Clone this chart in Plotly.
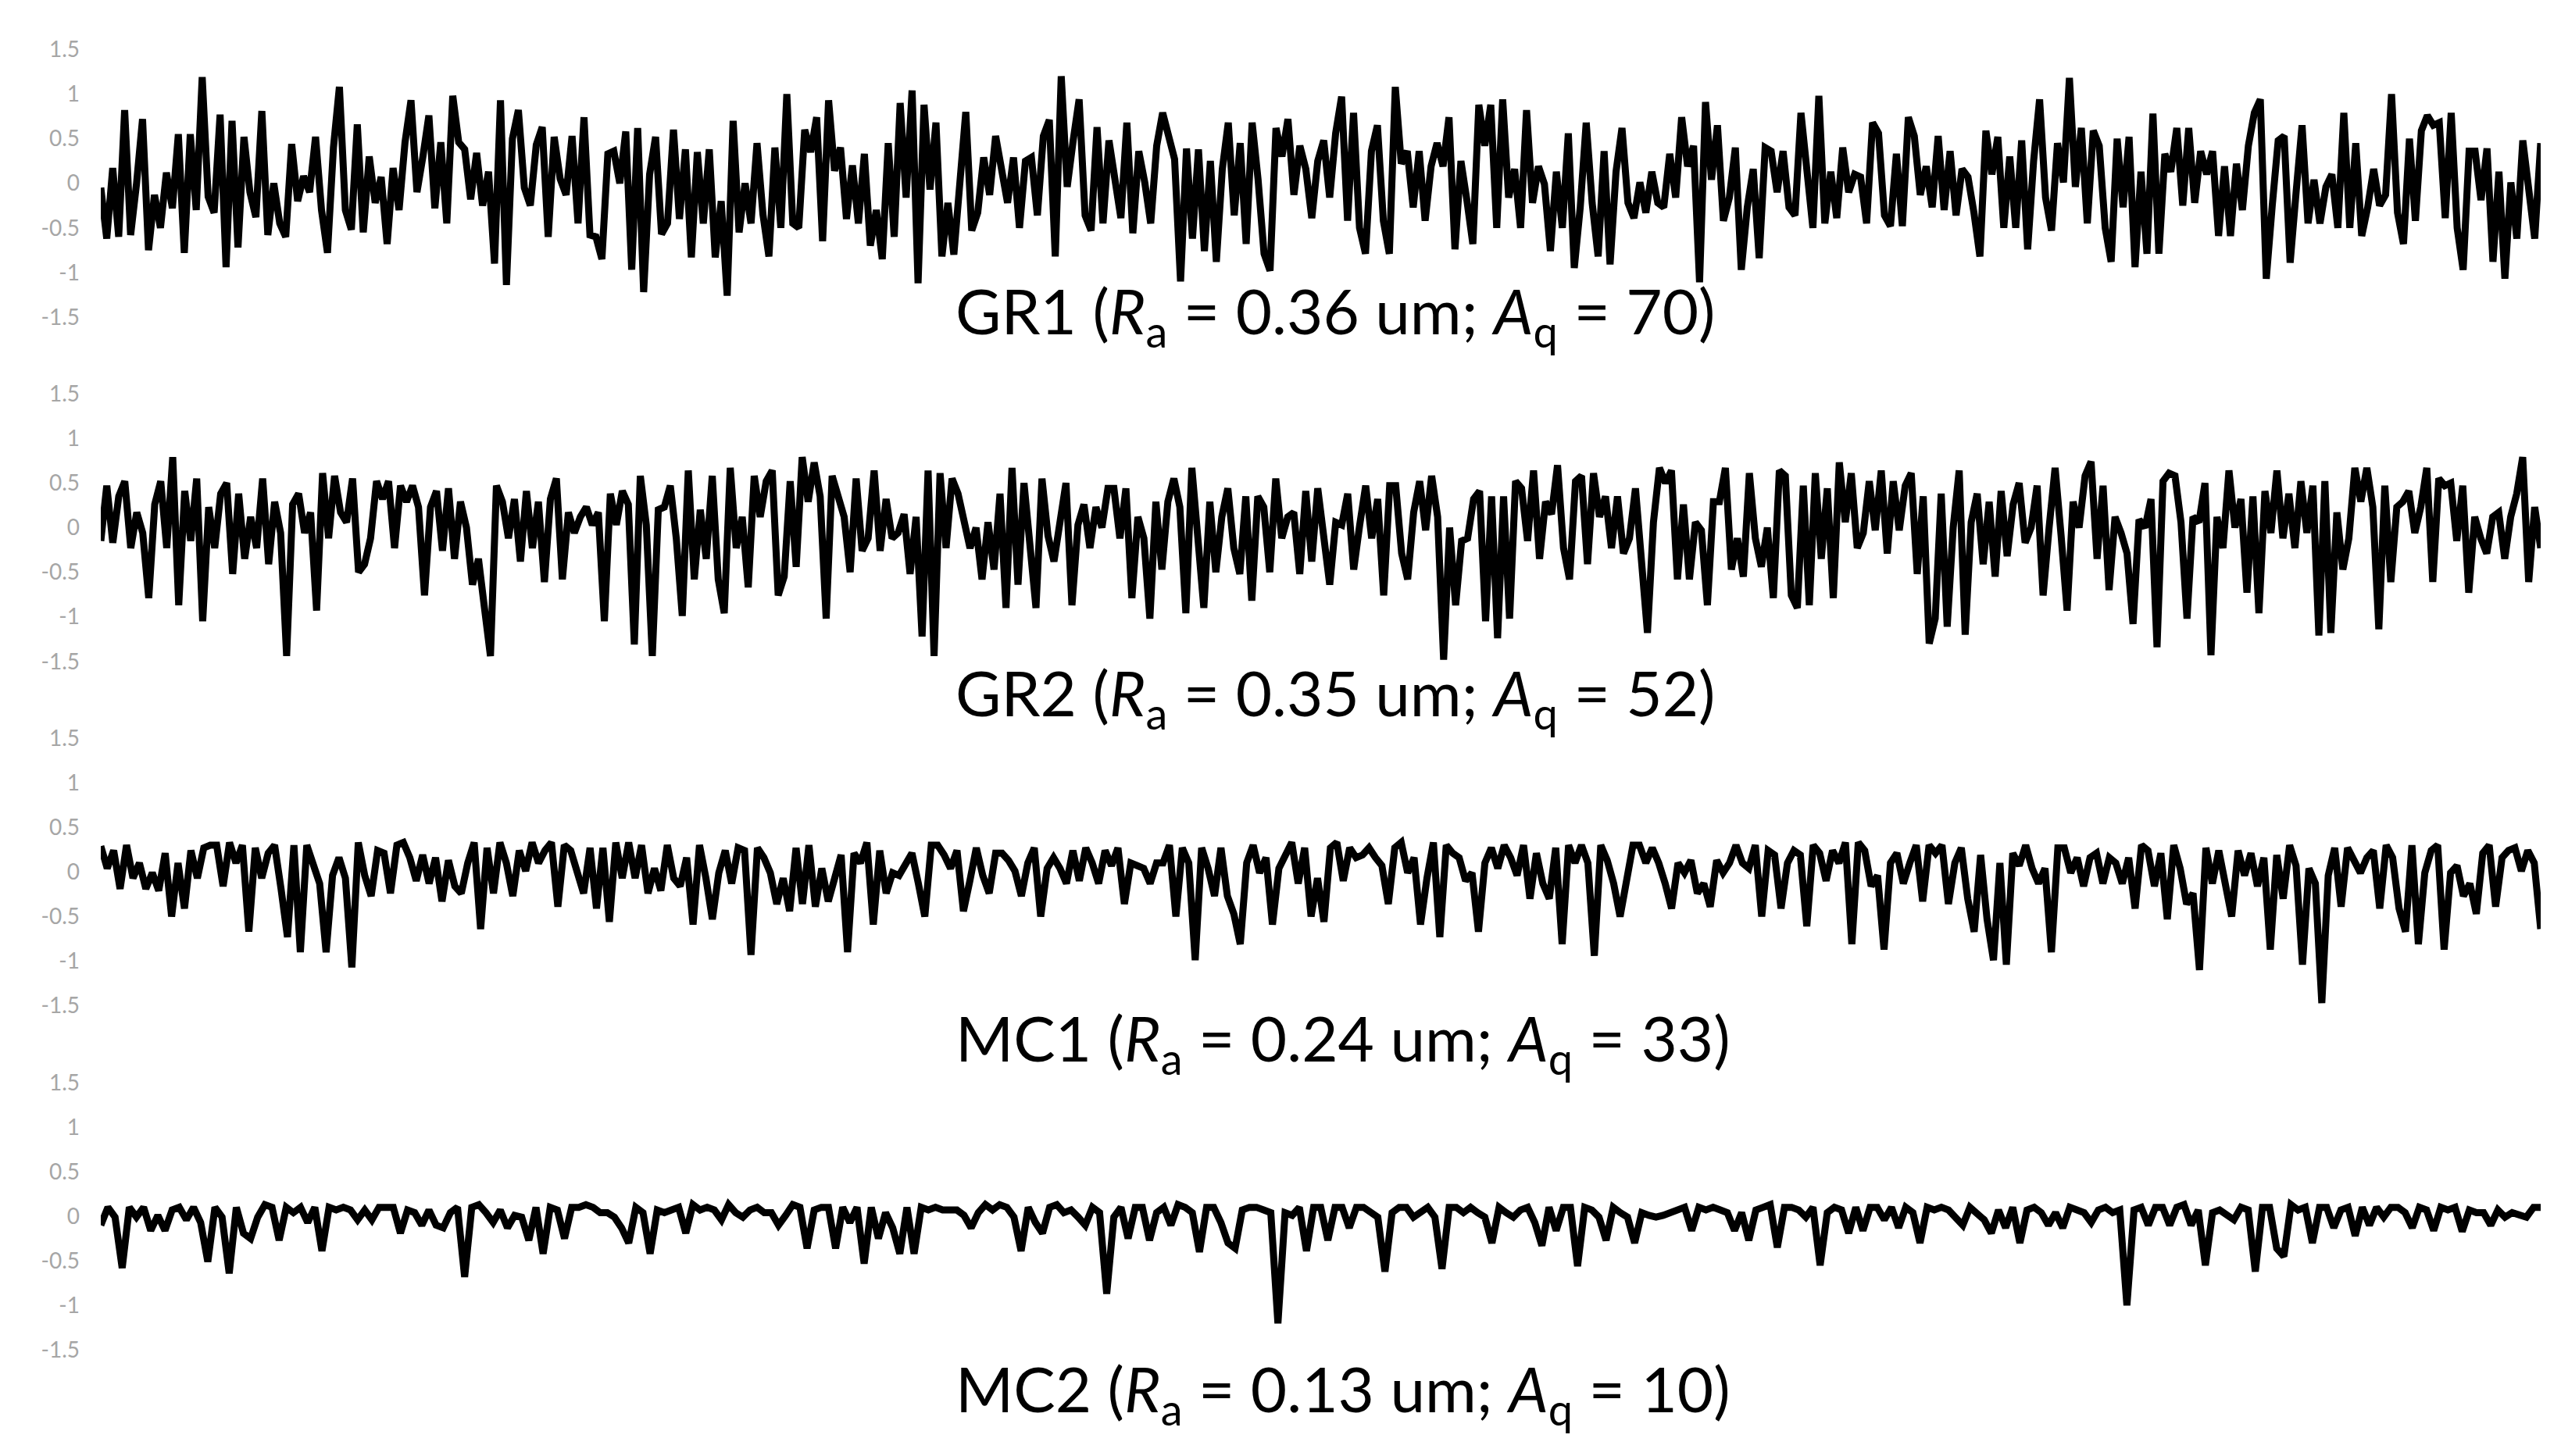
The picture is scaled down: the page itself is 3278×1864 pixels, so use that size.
"""表面粗糙度轮廓对比图 —— GR1 / GR2 / MC1 / MC2 四条轮廓上下排列"""

import plotly.graph_objects as go
from plotly.subplots import make_subplots

# 轮廓高度 (um)，按等间距采样点排列
GR1 = [
    -0.05, -0.62, 0.17, -0.6, 0.82, -0.58, 0.0, 0.72, -0.75, -0.13, -0.5, 0.12, -0.28, 0.55, -0.78, 0.55,
    -0.3, 1.19, -0.15, -0.33, 0.77, -0.94, 0.7, -0.72, 0.52, -0.1, -0.38, 0.81, -0.58, 0.0, -0.45, -0.6,
    0.44, -0.2, 0.08, -0.1, 0.52, -0.3, -0.78, 0.4, 1.08, -0.3, -0.52, 0.66, -0.55, 0.3, -0.22, 0.07,
    -0.68, 0.17, -0.3, 0.46, 0.93, -0.1, 0.3, 0.76, -0.28, 0.46, -0.45, 0.98, 0.46, 0.38, -0.18, 0.34,
    -0.25, 0.13, -0.9, 0.93, -1.14, 0.5, 0.82, -0.05, -0.25, 0.43, 0.63, -0.6, 0.52, 0.05, -0.13, 0.53,
    -0.45, 0.74, -0.58, -0.6, -0.85, 0.33, 0.36, 0.0, 0.58, -0.97, 0.62, -1.22, 0.1, 0.52, -0.57, -0.45,
    0.6, -0.4, 0.38, -0.83, 0.35, -0.45, 0.38, -0.83, -0.2, -1.26, 0.7, -0.55, 0.0, -0.45, 0.45, -0.35,
    -0.82, 0.4, -0.5, 1.0, -0.45, -0.5, 0.6, 0.35, 0.74, -0.65, 0.93, 0.14, 0.4, -0.4, 0.2, -0.45,
    0.33, -0.7, -0.3, -0.85,
    0.45, -0.6, 0.9, -0.16, 1.04, -1.12, 0.88, -0.07, 0.68, -0.82, -0.22, -0.8, 0.0, 0.8, -0.53, -0.33,
    0.29, -0.13, 0.53, 0.13, -0.22, 0.29, -0.5, 0.25, 0.29, -0.36, 0.53, 0.71, -0.82, 1.2, -0.04, 0.48,
    0.94, -0.36, -0.53, 0.63, -0.45, 0.48, -0.01, -0.39, 0.68, -0.56, 0.36, 0.01, -0.45, 0.42, 0.79, 0.53,
    0.27, -1.1, 0.39, -0.62, 0.38, -0.76, 0.25, -0.88, 0.16, 0.68, -0.36, 0.45, -0.68, 0.68, 0.04, -0.79,
    -0.98, 0.62, 0.3, 0.72, -0.13, 0.42, 0.16, -0.39, 0.25, 0.48, -0.16, 0.56, 0.97, -0.42, 0.79, -0.5,
    -0.79, 0.36, 0.65, -0.42, -0.79, 1.08, 0.22, 0.36, -0.27, 0.36, -0.42, 0.19, 0.45, 0.19, 0.74, -0.74,
    0.25, -0.19, -0.68, 0.88, 0.42, 0.88, -0.5, 0.94, -0.16, 0.16, -0.5, 0.82, -0.22, 0.19, -0.01, -0.76,
    0.13, -0.5, 0.56, -0.95, -0.27, 0.68, -0.22, -0.82, 0.36, -0.91, 0.13, 0.62, -0.22, -0.39, 0.01, -0.33,
    0.13, -0.22, -0.27, 0.33, -0.16, 0.74, 0.19, 0.42,
    -1.11, 0.91, 0.04, 0.65, -0.42, -0.16, 0.4, -0.97, -0.27, 0.16, -0.84, 0.4, 0.36, -0.1, 0.36, -0.27,
    -0.36, 0.79, 0.13, -0.5, 0.98, -0.45, 0.13, -0.39, 0.4, -0.1, 0.1, 0.07, -0.45, 0.68, 0.56, -0.36,
    -0.48, 0.33, -0.48, 0.74, 0.53, -0.13, 0.19, -0.27, 0.53, -0.3, 0.36, -0.36, 0.16, 0.07, -0.33, -0.82,
    0.59, 0.1, 0.52, -0.5, 0.3, -0.5, 0.48, -0.74, 0.25, 0.94, -0.16, -0.53, 0.45, 0.01, 1.18, -0.04,
    0.62, -0.45, 0.59, 0.42, -0.5, -0.88, 0.5, -0.27, 0.52, -0.94, 0.13, -0.79, 0.78, -0.79, 0.33, 0.13,
    0.62, -0.25, 0.62, -0.22, 0.36, 0.1, 0.36, -0.59, 0.19, -0.59, 0.22, -0.3, 0.42, 0.79, 0.94, -1.07,
    -0.25, 0.48, 0.53, -0.89, -0.1, 0.65, -0.45, 0.04, -0.45, -0.04, 0.1, -0.5, 0.79, -0.5, 0.45, -0.59,
    -0.27, 0.16, -0.25, -0.13, 1.0, -0.33, -0.68, 0.5, -0.42, 0.59, 0.76, 0.65, 0.68, -0.39, 0.79, -0.5,
    -0.97, 0.36, 0.36, -0.19, 0.39, -0.88, 0.13, -1.07, 0.01, -0.62, 0.48, -0.1, -0.62, 0.45,
]

GR2 = [
    -0.15, 0.47, -0.17, 0.35, 0.52, -0.23, 0.17, -0.06, -0.79, 0.26, 0.52, -0.23, 0.79, -0.87, 0.41, -0.15,
    0.55, -1.05, 0.23, -0.23, 0.38, 0.5, -0.52, 0.38, -0.35, 0.12, -0.23, 0.55, -0.41, 0.29, -0.06, -1.44,
    0.26, 0.38, -0.06, 0.17, -0.93, 0.61, -0.12, 0.58, 0.17, 0.06, 0.55, -0.5, -0.41, -0.12, 0.52, 0.32,
    0.52, -0.23, 0.47, 0.29, 0.47, 0.23, -0.76, 0.23, 0.41, -0.26, 0.44, -0.35, 0.29, 0.0, -0.64, -0.35,
    -0.9, -1.44, 0.47, 0.29, -0.12, 0.32, -0.38, 0.41, -0.23, 0.29, -0.61, 0.32, 0.55, -0.58, 0.17, -0.06,
    0.12, 0.23, 0.03, 0.17, -1.05, 0.38, 0.03, 0.41, 0.26, -1.31, 0.58, 0.03, -1.44, 0.2, 0.23, 0.47,
    -0.12, -0.99, 0.64, -0.58, 0.2, -0.35, 0.58, -0.58, -0.96, 0.67, -0.23, 0.12, -0.67, 0.58, 0.12, 0.52,
    0.64, -0.76, -0.55, 0.52, -0.44, 0.79, 0.29, 0.73, 0.35, -1.02, 0.58, 0.38, 0.12, -0.5, 0.55, -0.26,
    -0.12, 0.64, -0.26, 0.32, -0.12, -0.06, 0.15, -0.52, 0.12, -1.22, 0.64, -1.44, 0.61,
    -0.23, 0.55, 0.38, 0.06, -0.23, 0.0, -0.58, 0.06, -0.47, 0.38, -0.9, 0.67, -0.64, 0.5, -0.26, -0.9,
    0.55, -0.09, -0.38, 0.03, 0.5, -0.87, 0.03, 0.26, -0.23, 0.23, 0.0, 0.44, 0.44, -0.12, 0.44, -0.79,
    0.12, -0.12, -1.02, 0.29, -0.47, 0.29, 0.55, 0.23, -0.96, 0.67, -0.03, -0.9, 0.29, -0.5, 0.12, 0.44,
    -0.23, -0.52, 0.35, -0.82, 0.35, 0.23, -0.5, 0.55, -0.12, 0.12, 0.17, -0.52, 0.41, -0.38, 0.44, -0.15,
    -0.64, 0.06, 0.03, 0.38, -0.47, 0.03, 0.47, -0.12, 0.32, -0.76, 0.47, 0.47, -0.29, -0.58, 0.17, 0.52,
    -0.03, 0.58, 0.12, -1.48, 0.0, -0.87, -0.15, -0.12, 0.32, 0.41, -1.05, 0.35, -1.24, 0.35, -1.02, 0.52,
    0.44, -0.15, 0.64, -0.35, 0.29, 0.15, 0.7, -0.23, -0.58, 0.52, 0.58, -0.41, 0.61, 0.12, 0.35, -0.23,
    0.35, -0.29, -0.12, 0.44, -0.29, -1.18, 0.06, 0.67, 0.5, 0.64, -0.58, 0.26, -0.58, 0.06, -0.03, -0.87,
    0.29, 0.29, 0.67, -0.47, -0.12,
    -0.55, 0.61, -0.12, -0.44, 0.0, -0.79, 0.64, 0.58, -0.76, -0.9, 0.47, -0.87, 0.61, -0.35, 0.44, -0.79,
    0.73, 0.06, 0.61, -0.23, -0.06, 0.52, -0.03, 0.64, -0.29, 0.52, -0.03, 0.47, 0.61, -0.52, 0.35, -1.3,
    -1.02, 0.38, -1.11, 0.0, 0.64, -1.2, 0.06, 0.38, -0.41, 0.29, -0.55, 0.41, -0.32, 0.26, 0.5, -0.17,
    0.0, 0.47, -0.76, 0.0, 0.67, -0.09, -0.93, 0.29, 0.0, 0.58, 0.74, -0.35, 0.47, -0.7, 0.12, -0.06,
    -0.29, -1.08, 0.09, 0.0, 0.32, -1.34, 0.52, 0.61, 0.58, 0.06, -1.02, 0.12, 0.06, 0.5, -1.43, 0.12,
    -0.23, 0.64, 0.0, 0.32, -0.73, 0.35, -0.96, 0.41, -0.06, 0.64, -0.12, 0.38, -0.23, 0.52, -0.06, 0.47,
    -1.21, 0.52, -1.18, 0.17, -0.47, -0.12, 0.67, 0.29, 0.67, 0.23, -1.14, 0.47, -0.61, 0.23, 0.29, 0.41,
    -0.06, 0.23, 0.67, -0.61, 0.55, 0.47, 0.5, -0.15, 0.47, -0.73, 0.12, -0.12, -0.29, 0.12, 0.17, -0.35,
    0.12, 0.38, 0.79, -0.61, 0.23, -0.23,
]

MC1 = [
    0.29, 0.04, 0.24, -0.19, 0.3, -0.07, 0.1, -0.19, -0.01, -0.21, 0.21, -0.5, 0.1, -0.41, 0.24, -0.07,
    0.27, 0.3, 0.3, -0.16, 0.33, 0.1, 0.3, -0.67, 0.27, -0.07, 0.21, 0.3, -0.19, -0.73, 0.3, -0.9,
    0.3, 0.1, -0.13, -0.9, -0.04, 0.16, -0.07, -1.07, 0.33, -0.04, -0.27, 0.24, 0.21, -0.24, 0.3, 0.33,
    0.16, -0.1, 0.19, -0.13, 0.16, -0.33, 0.13, -0.16, -0.24, 0.1, 0.33, -0.64, 0.27, -0.24, 0.33, 0.1,
    -0.27, 0.24, 0.01, 0.33, 0.1, 0.24, 0.33, -0.39, 0.3, 0.24, -0.01, -0.24, 0.27, -0.41, 0.27, -0.56,
    0.33, -0.07, 0.33, -0.07, 0.3, -0.24, 0.04, -0.21, 0.3, -0.07, -0.16, 0.16, -0.59, 0.3, -0.07, -0.53,
    -0.01, 0.24, -0.13, 0.27, 0.24, -0.93, 0.27, 0.16, -0.01, -0.36, -0.07, -0.44, 0.27, -0.36, 0.3, -0.39,
    0.04, -0.33, -0.07, 0.19, -0.9, 0.21, 0.1, 0.33, -0.59, 0.24, -0.24, -0.01, -0.04,
    0.1, 0.21, -0.13, -0.5, 0.3, 0.3, 0.19, 0.04, 0.24, -0.44, -0.1, 0.27, -0.04, -0.24, 0.21, 0.21,
    0.13, 0.01, -0.27, 0.1, 0.27, -0.5, 0.04, 0.16, 0.04, -0.13, 0.24, -0.1, 0.27, 0.1, -0.13, 0.24,
    0.07, 0.27, -0.36, 0.1, 0.07, 0.04, -0.13, 0.1, 0.1, 0.3, -0.5, 0.27, 0.1, -0.99, 0.27, 0.04,
    -0.27, 0.27, -0.27, -0.47, -0.81, 0.1, 0.3, -0.01, 0.16, -0.59, 0.04, 0.21, 0.33, -0.13, 0.27, -0.5,
    -0.07, -0.56, 0.27, 0.33, -0.1, 0.27, 0.16, 0.19, 0.27, 0.16, 0.07, -0.36, 0.27, 0.33, -0.01, 0.16,
    -0.59, -0.07, 0.33, -0.73, 0.3, 0.21, 0.16, -0.1, -0.01, -0.67, 0.1, 0.27, 0.04, 0.3, 0.16, -0.04,
    0.3, -0.3, 0.21, -0.13, -0.3, 0.27, -0.81, 0.3, 0.1, 0.3, 0.1, -0.94, 0.3, 0.13, -0.13, -0.5,
    -0.1, 0.3, 0.3, 0.1, 0.27, 0.1, -0.13, -0.41, 0.1,
    -0.01, 0.13, -0.24, -0.13, -0.39, 0.13, -0.01, 0.1, 0.3, 0.1, 0.04, 0.3, -0.5, 0.24, 0.19, -0.41,
    0.1, 0.24, 0.19, -0.61, 0.3, 0.21, -0.1, 0.24, 0.1, 0.33, -0.81, 0.33, 0.24, -0.16, -0.04, -0.87,
    0.1, 0.21, -0.13, 0.1, 0.3, -0.33, 0.3, 0.21, 0.3, -0.36, 0.1, 0.27, -0.3, -0.67, 0.19, -0.53,
    -0.99, 0.1, -1.04, 0.21, 0.07, 0.3, 0.04, -0.13, 0.04, -0.9, 0.27, 0.27, -0.01, 0.16, -0.16, 0.16,
    0.21, -0.13, 0.16, 0.1, -0.13, 0.16, -0.41, 0.3, 0.24, -0.16, 0.21, -0.53, 0.3, 0.04, -0.36, -0.24,
    -1.1, 0.27, -0.13, 0.24, -0.13, -0.5, 0.24, -0.04, 0.21, -0.16, 0.16, -0.87, 0.19, -0.3, 0.3, 0.07,
    -1.04, 0.04, -0.13, -1.47, -0.04, 0.27, -0.39, 0.27, 0.13, -0.01, 0.16, 0.24, -0.41, 0.3, 0.16, -0.41,
    -0.67, 0.3, -0.81, -0.01, 0.24, 0.3, -0.87, -0.01, 0.07, -0.27, -0.13, -0.47, 0.21, 0.3, -0.39, 0.16,
    0.24, 0.27, 0.01, 0.24, 0.1, -0.64,
]

MC2 = [
    -0.1, 0.1, -0.01, -0.58, 0.1, -0.01, 0.1, -0.16, 0.01, -0.16, 0.07, 0.1, -0.04, 0.1, -0.07, -0.51,
    0.1, -0.01, -0.64, 0.1, -0.19, -0.25, -0.01, 0.13, 0.1, -0.27, 0.1, 0.04, 0.1, -0.07, 0.1, -0.39,
    0.1, 0.07, 0.1, 0.07, -0.04, 0.07, -0.04, 0.1, 0.1, 0.1, -0.19, 0.07, 0.04, -0.1, 0.07, -0.1,
    -0.13, 0.04, 0.1, -0.68, 0.1, 0.13, 0.04, -0.07, 0.07, -0.13, 0.01, -0.01, -0.27, 0.1, -0.42, 0.1,
    0.07, -0.25, 0.1, 0.1, 0.13, 0.1, 0.04, 0.04, -0.01, -0.13, -0.3, 0.1, 0.04, -0.42, 0.07, 0.04,
    0.07, 0.1, -0.19, 0.13, 0.07, 0.1, 0.07, -0.04, 0.13, 0.04, -0.01, 0.07, 0.1, 0.04, 0.04, -0.1,
    0.01, 0.13, 0.1, -0.36, 0.07, 0.1, 0.1, -0.36, 0.1, -0.07, 0.1, -0.53, 0.1, -0.25, 0.04, -0.13,
    -0.42, 0.1, -0.42, 0.1, 0.07, 0.1, 0.07,
    0.07, 0.07, 0.01, -0.13, 0.04, 0.13, 0.07, 0.13, 0.1, -0.01, -0.39, 0.1, -0.07, -0.19, 0.1, 0.13,
    0.04, 0.07, -0.01, -0.1, 0.1, 0.04, -0.87, -0.01, 0.1, -0.25, 0.1, 0.1, -0.27, 0.04, 0.1, -0.1,
    0.13, 0.1, 0.04, -0.4, 0.1, 0.1, -0.07, -0.3, -0.36, 0.07, 0.1, 0.1, 0.07, 0.04, -1.2, 0.04,
    0.01, 0.1, -0.39, 0.1, 0.1, -0.27, 0.1, 0.1, -0.13, 0.1, 0.1, 0.04, -0.01, -0.62, 0.04, 0.1,
    0.1, -0.01, 0.04, 0.1, -0.01, -0.59, 0.1, 0.1, 0.04, 0.1, 0.04, -0.01, -0.3, 0.1, 0.04, -0.01,
    0.07, 0.1, -0.07, -0.33, 0.1, -0.16, 0.1, 0.1, -0.56, 0.1, 0.07, -0.01, -0.27, 0.1, 0.04, -0.01,
    -0.3, 0.04, 0.01, -0.01, 0.01, 0.04, 0.07, 0.1, -0.16, 0.1, 0.07, 0.1,
    0.07, 0.04, -0.16, 0.04, -0.27, 0.07, 0.1, 0.13, -0.35, 0.1, 0.1, 0.07, -0.01, 0.1, -0.55, 0.04,
    0.1, 0.07, -0.19, 0.1, -0.16, 0.1, 0.1, -0.04, 0.1, -0.13, 0.1, 0.04, -0.3, 0.1, 0.07, 0.1,
    0.07, -0.01, -0.1, 0.1, 0.04, -0.04, -0.19, 0.07, -0.13, 0.1, -0.3, 0.07, 0.1, 0.04, -0.1, 0.04,
    -0.13, 0.1, 0.07, 0.04, -0.07, 0.07, 0.1, 0.04, 0.07, -1.0, 0.07, 0.1, -0.1, 0.1, 0.1, -0.1,
    0.1, 0.13, -0.1, 0.07, -0.55, 0.04, 0.07, 0.01, -0.04, 0.1, 0.07, -0.62, 0.1, 0.1, -0.36, -0.45,
    0.13, 0.07, 0.1, -0.3, 0.1, 0.1, -0.13, 0.07, 0.1, -0.22, 0.1, -0.1, 0.1, -0.01, 0.1, 0.1,
    0.04, -0.13, 0.1, 0.07, -0.16, 0.1, 0.07, 0.1, -0.17, 0.07, 0.04, 0.04, -0.1, 0.07, -0.01, 0.04,
    0.01, -0.01, 0.1, 0.1,
]

SAMPLES = ["GR1", "GR2", "MC1", "MC2"]
RA_UM = ["0.36", "0.35", "0.24", "0.13"]
AQ = ["70", "52", "33", "10"]
PROFILES = [GR1, GR2, MC1, MC2]

Y_TICKS = [-1.5, -1, -0.5, 0, 0.5, 1, 1.5]
Y_TICK_TEXT = ["-1.5", "-1", "-0.5", "0", "0.5", "1", "1.5"]

W, H = 3278, 1864


def build_profile_figure():
    """四个子图纵向排列，每个子图下方是样品名和粗糙度参数"""
    fig = make_subplots(rows=4, cols=1)

    # 每个面板的像素位置（上沿 / 高度 / 间距）
    top0, panel_h, step = 38, 349, 449
    title_mid = [384, 882, 1332, 1790]

    for i, (name, ys) in enumerate(zip(SAMPLES, PROFILES)):
        row = i + 1
        fig.add_trace(go.Scatter(
            x=list(range(len(ys))),
            y=ys,
            mode="lines",
            line=dict(color="black", width=9),
            hoverinfo="skip",
            showlegend=False,
            name=name,
        ), row=row, col=1)

        top = top0 + step * i
        bottom = top + panel_h
        fig.update_yaxes(
            domain=[1 - bottom / H, 1 - top / H],
            range=[-1.5, 1.5],
            tickvals=Y_TICKS,
            ticktext=Y_TICK_TEXT,
            tickfont=dict(family="Lato", size=28, color="#a6a6a6"),
            ticklabelstandoff=26,
            showgrid=False, zeroline=False, showline=False, ticks="",
            row=row, col=1,
        )
        fig.update_xaxes(
            domain=[0, 1],
            range=[0, len(ys) - 1],
            visible=False,
            row=row, col=1,
        )

        fig.add_annotation(
            text=(f"{name} (<i>R</i><sub>a</sub> = {RA_UM[i]} um; "
                  f"<i>A</i><sub>q</sub> = {AQ[i]})"),
            xref="paper", yref="paper",
            x=(1213 - 121) / (W - 121 - 34), xanchor="left",
            y=1 - title_mid[i] / H, yanchor="middle",
            showarrow=False,
            font=dict(family="Lato", size=80, color="black"),
        )

    fig.update_layout(
        width=W, height=H,
        margin=dict(l=121, r=34, t=0, b=0),
        paper_bgcolor="white",
        plot_bgcolor="white",
    )
    return fig


fig = build_profile_figure()
fig.write_html("out.html")
